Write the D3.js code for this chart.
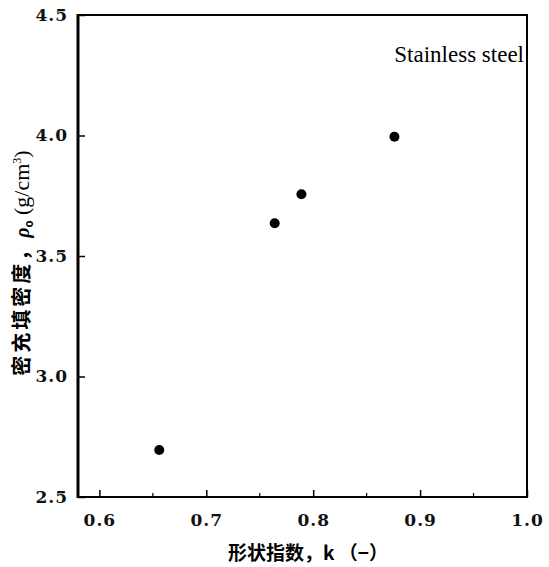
<!DOCTYPE html>
<html><head><meta charset="utf-8">
<script src="https://cdn.jsdelivr.net/npm/d3@7"></script>
<style>body{margin:0;background:#fff}
.serif{font-family:"DejaVu Serif","Liberation Serif",serif}
.times{font-family:"Liberation Serif","Times New Roman",serif}
.cjk{font-family:"Noto Sans CJK SC",sans-serif}
</style>
</head><body>
<script>
const shapeIndex = [0.656, 0.764, 0.789, 0.876];
const packingDensity = [2.695, 3.636, 3.756, 3.995];
const xTicks = [0.6, 0.7, 0.8, 0.9, 1.0];
const xMinorTicks = [0.65, 0.75, 0.85, 0.95];
const yTicks = [2.5, 3.0, 3.5, 4.0, 4.5];
const seriesLabel = "Stainless steel";
const xTitle = "形状指数，k （−）";

const W = 549, H = 567;
const m = {l: 78, r: 22, t: 15, b: 70};
const svg = d3.select("body").append("svg").attr("width", W).attr("height", H);
const x = d3.scaleLinear().domain([0.58, 1.0]).range([m.l, W - m.r]);
const y = d3.scaleLinear().domain([2.5, 4.5]).range([H - m.b, m.t]);

// frame
svg.append("rect").attr("x", m.l).attr("y", m.t).attr("width", W - m.r - m.l).attr("height", H - m.b - m.t)
  .attr("fill", "none").attr("stroke", "#000").attr("stroke-width", 2);
svg.append("line").attr("x1", m.l).attr("x2", m.l).attr("y1", m.t - 1).attr("y2", H - m.b + 1)
  .attr("stroke", "#000").attr("stroke-width", 3);

// x axis
const xAxis = d3.axisBottom(x).tickValues(xTicks).tickSizeInner(-7).tickSizeOuter(0).tickFormat(d3.format(".1f")).tickPadding(17);
const gx = svg.append("g").attr("transform", `translate(0,${H - m.b})`).call(xAxis);
gx.attr("font-family", null).attr("font-size", null);
gx.select(".domain").remove();
gx.selectAll("text").attr("class", "serif").style("font-size", "17px").style("font-weight", "bold").attr("fill", "#111").style("letter-spacing", "1px");
gx.selectAll("line").attr("stroke-width", 1.5);
svg.append("g").selectAll("line").data(xMinorTicks).join("line")
  .attr("x1", d => x(d)).attr("x2", d => x(d)).attr("y1", H - m.b).attr("y2", H - m.b - 4)
  .attr("stroke", "#000").attr("stroke-width", 1.2);

// y axis
const yAxis = d3.axisLeft(y).tickValues(yTicks).tickSizeInner(-7).tickSizeOuter(0).tickFormat(d3.format(".1f")).tickPadding(10);
const gy = svg.append("g").attr("transform", `translate(${m.l},0)`).call(yAxis);
gy.attr("font-family", null).attr("font-size", null);
gy.select(".domain").remove();
gy.selectAll("text").attr("class", "serif").style("font-size", "17px").style("font-weight", "bold").attr("fill", "#111").style("letter-spacing", "1px");
gy.selectAll("line").attr("stroke-width", 1.5);

// points
svg.append("g").selectAll("circle").data(shapeIndex.map((k, i) => [k, packingDensity[i]])).join("circle")
  .attr("cx", d => x(d[0])).attr("cy", d => y(d[1])).attr("r", 5).attr("fill", "#000");

// label
svg.append("text").attr("class", "times").attr("x", W - m.r - 3).attr("y", 62).attr("text-anchor", "end")
  .style("font-size", "23px").text(seriesLabel);

// x title
svg.append("text").attr("class", "cjk").attr("x", 308).attr("y", 560).attr("text-anchor", "middle")
  .style("font-size", "19px").style("font-weight", "bold").text(xTitle);

// y title
const yt = svg.append("text").attr("class", "cjk").attr("transform", "translate(29,263) rotate(-90)").attr("text-anchor", "middle")
  .style("font-size", "20px").style("font-weight", "bold");
yt.append("tspan").style("letter-spacing", "3px").text("密充填密度，");
yt.append("tspan").attr("class", "times").style("font-style", "italic").text("ρ");
yt.append("tspan").style("font-size", "11px").attr("dy", 4).text("o");
yt.append("tspan").attr("dy", -4).attr("class", "times").style("font-weight", "normal").style("font-size", "22px").text(" (g/cm");
yt.append("tspan").attr("class", "times").style("font-weight", "normal").style("font-size", "12px").attr("dy", -8).text("3");
yt.append("tspan").attr("class", "times").style("font-weight", "normal").style("font-size", "22px").attr("dy", 8).text(")");
</script>
</body></html>
